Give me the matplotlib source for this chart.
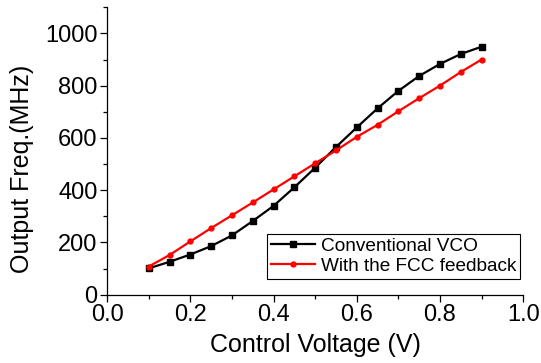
import matplotlib
matplotlib.use("Agg")
import matplotlib.pyplot as plt
from matplotlib.ticker import MultipleLocator, FormatStrFormatter

plt.rcParams['font.family'] = ['Liberation Sans', 'DejaVu Sans']

voltage = [0.10, 0.15, 0.20, 0.25, 0.30, 0.35, 0.40, 0.45, 0.50,
           0.55, 0.60, 0.65, 0.70, 0.75, 0.80, 0.85, 0.90]
conventional = [101, 126, 154, 186, 227, 282, 340, 411, 486,
                565, 640, 713, 780, 837, 883, 921, 949]
fcc_feedback = [108, 152, 204, 255, 304, 353, 403, 453, 503,
                552, 604, 650, 702, 752, 800, 852, 900]
labels = ["Conventional VCO", "With the FCC feedback"]

fig = plt.figure(figsize=(5.41, 3.63), dpi=100)
ax = fig.add_axes([0.198, 0.188, 0.769, 0.792])

ax.plot(voltage, conventional, color='black', lw=1.6, marker='s', ms=4, label=labels[0])
ax.plot(voltage, fcc_feedback, color='red', lw=1.6, marker='o', ms=3.5, label=labels[1])

ax.set_xlim(0, 1.0)
ax.set_ylim(0, 1100)
ax.xaxis.set_major_locator(MultipleLocator(0.2))
ax.xaxis.set_minor_locator(MultipleLocator(0.1))
ax.xaxis.set_major_formatter(FormatStrFormatter('%.1f'))
ax.set_yticks([0, 200, 400, 600, 800, 1000])
ax.yaxis.set_minor_locator(MultipleLocator(100))

for s in ['top', 'right']:
    ax.spines[s].set_visible(False)
for s in ['left', 'bottom']:
    ax.spines[s].set_linewidth(0.9)

ax.tick_params(which='major', direction='out', length=5, width=0.9, labelsize=17, pad=2)
ax.tick_params(which='minor', direction='out', length=3, width=0.9)

ax.set_xlabel("Control Voltage (V)", fontsize=18, labelpad=5)
ax.set_ylabel("Output Freq.(MHz)", fontsize=18)
ax.yaxis.set_label_coords(-0.175, 0.437)

leg = ax.legend(loc='lower right', bbox_to_anchor=(0.992, 0.055), fontsize=13.7,
                frameon=True, fancybox=False, edgecolor='black', framealpha=1,
                handlelength=2.3, handletextpad=0.3, borderpad=0.2, labelspacing=0.15,
                borderaxespad=0)
leg.get_frame().set_linewidth(0.8)

fig.savefig("out.png", dpi=100)
